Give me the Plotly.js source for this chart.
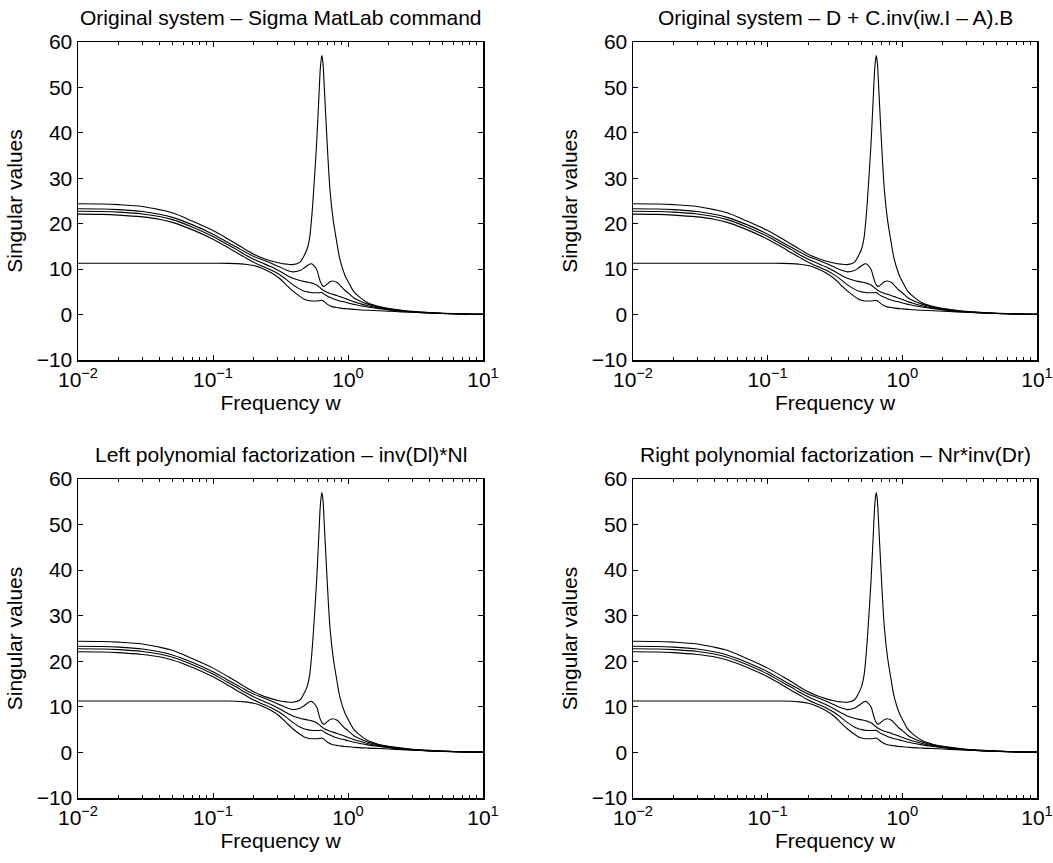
<!DOCTYPE html>
<html>
<head>
<meta charset="utf-8">
<script src="https://cdn.plot.ly/plotly-3.0.1.min.js"></script>
<style>html,body{margin:0;padding:0;background:#fff;}#chart{width:1053px;height:863px;}</style>
</head>
<body>
<div id="chart"></div>
<script>
// Frequency grid (rad/s)
const freq = [0.01, 0.015, 0.02, 0.03, 0.04, 0.05, 0.07, 0.1, 0.13, 0.15, 0.17, 0.2, 0.23, 0.27, 0.31, 0.35, 0.39, 0.44, 0.47, 0.5, 0.52, 0.535, 0.55, 0.585, 0.61, 0.625, 0.64, 0.652, 0.665, 0.7, 0.735, 0.775, 0.825, 0.87, 0.95, 1.0, 1.1, 1.2, 1.4, 1.7, 2, 2.5, 3, 4, 5, 7, 10];

// Singular values (sorted, largest first)
const sv1 = [24.4, 24.35, 24.2, 23.8, 23.1, 22.4, 20.6, 18.5, 16.6, 15.5, 14.5, 13.3, 12.5, 11.8, 11.35, 11.1, 11.0, 11.5, 12.8, 14.6, 17.0, 20.5, 25.0, 37.5, 48.5, 54.5, 57.0, 55.5, 51.0, 38.0, 27.5, 21.0, 16.0, 12.2, 8.6, 7.3, 5.1, 4.0, 2.6, 1.75, 1.35, 0.95, 0.7, 0.45, 0.3, 0.15, 0.08];
const sv2 = [23.3, 23.25, 23.1, 22.7, 22.1, 21.4, 19.8, 17.7, 15.8, 14.8, 13.9, 12.8, 12.1, 11.3, 10.5, 9.8, 9.4, 9.7, 10.2, 10.8, 11.1, 11.2, 11.0, 10.0, 8.2, 7.2, 6.6, 6.3, 6.2, 6.7, 7.2, 7.4, 7.1, 6.5, 5.3, 4.8, 3.7, 3.1, 2.3, 1.6, 1.25, 0.88, 0.63, 0.4, 0.27, 0.14, 0.07];
const sv3 = [22.75, 22.7, 22.55, 22.15, 21.6, 20.9, 19.3, 17.2, 15.3, 14.3, 13.3, 12.2, 11.4, 10.5, 9.6, 8.7, 8.0, 7.5, 7.3, 7.15, 7.05, 6.95, 6.85, 6.5, 6.1, 5.85, 5.6, 5.4, 5.25, 4.9, 4.65, 4.45, 4.2, 3.95, 3.55, 3.3, 2.85, 2.5, 1.95, 1.45, 1.15, 0.8, 0.58, 0.37, 0.25, 0.13, 0.07];
const sv4 = [22.1, 22.05, 21.9, 21.5, 21.0, 20.3, 18.7, 16.6, 14.7, 13.6, 12.7, 11.5, 10.7, 9.8, 8.8, 7.7, 6.6, 5.6, 5.2, 5.0, 4.9, 4.85, 4.8, 4.8, 4.8, 4.85, 4.85, 4.7, 4.5, 4.1, 3.8, 3.5, 3.2, 3.0, 2.75, 2.55, 2.25, 2.0, 1.65, 1.3, 1.05, 0.72, 0.55, 0.35, 0.24, 0.12, 0.06];
const sv5 = [11.3, 11.3, 11.3, 11.3, 11.3, 11.3, 11.3, 11.29, 11.27, 11.22, 11.1, 10.8, 10.2, 9.2, 8.0, 6.5, 5.2, 4.0, 3.45, 3.15, 3.05, 3.0, 3.0, 3.0, 3.05, 3.1, 3.15, 3.05, 2.85, 2.3, 1.95, 1.7, 1.55, 1.45, 1.3, 1.25, 1.15, 1.05, 0.95, 0.85, 0.75, 0.6, 0.5, 0.35, 0.25, 0.12, 0.06];

const series = [sv1, sv2, sv3, sv4, sv5];

const panelTitles = [
  "Original system – Sigma MatLab command",
  "Original system – D + C.inv(iw.I – A).B",
  "Left polynomial factorization – inv(Dl)*Nl",
  "Right polynomial factorization – Nr*inv(Dr)"
];
const xTickVals = [0.01, 0.1, 1, 10];
const xTickText = ["10<sup>−2</sup>", "10<sup>−1</sup>", "10<sup>0</sup>", "10<sup>1</sup>"];
const xLabel = "Frequency w";
const yLabel = "Singular values";

const FONT = "Liberation Sans, Arial, Helvetica, sans-serif";
const FS = 21;

const xDomains = [[78/1053, 483/1053], [633/1053, 1037/1053]];
const yDomains = [[(863-360)/863, (863-42)/863], [(863-798)/863, (863-479)/863]];

const traces = [];
const layout = {
  width: 1053, height: 863,
  margin: {l: 0, r: 0, t: 0, b: 0},
  paper_bgcolor: "#fff", plot_bgcolor: "#fff",
  showlegend: false,
  font: {family: FONT, size: FS, color: "#000"},
  annotations: []
};

for (let p = 0; p < 4; p++) {
  const col = p % 2, row = Math.floor(p / 2);
  const xa = p === 0 ? "x" : "x" + (p + 1);
  const ya = p === 0 ? "y" : "y" + (p + 1);
  series.forEach(s => traces.push({
    x: freq, y: s, xaxis: xa, yaxis: ya, type: "scatter", mode: "lines",
    line: {color: "#000", width: 1.1, shape: "spline", smoothing: 0.9},
    hoverinfo: "skip"
  }));
  const xk = p === 0 ? "xaxis" : "xaxis" + (p + 1);
  const yk = p === 0 ? "yaxis" : "yaxis" + (p + 1);
  layout[xk] = {
    domain: xDomains[col], anchor: ya, type: "log", range: [-2, 1],
    tickvals: xTickVals, ticktext: xTickText,
    ticks: "inside", ticklen: 5, tickwidth: 1, tickcolor: "#000",
    showline: true, linecolor: "#000", linewidth: 1.5, mirror: "ticks",
    showgrid: false, zeroline: false,
    minor: {ticks: "inside", ticklen: 3, tickwidth: 1, tickcolor: "#000", dtick: "D1", showgrid: false},
    tickfont: {family: FONT, size: FS, color: "#000"},
    title: {text: xLabel, font: {family: FONT, size: FS, color: "#000"}, standoff: 2},
    automargin: false, fixedrange: true
  };
  layout[yk] = {
    domain: yDomains[row], anchor: xa, range: [-10, 60], dtick: 10, tick0: 0,
    ticks: "inside", ticklen: 5, tickwidth: 1, tickcolor: "#000",
    showline: true, linecolor: "#000", linewidth: 1.5, mirror: "ticks",
    showgrid: false, zeroline: false,
    tickfont: {family: FONT, size: FS, color: "#000"},
    title: {text: yLabel, font: {family: FONT, size: FS, color: "#000"}, standoff: 8},
    automargin: false, fixedrange: true
  };
  layout.annotations.push({
    text: panelTitles[p], xref: "paper", yref: "paper",
    x: (xDomains[col][0] + xDomains[col][1]) / 2,
    y: yDomains[row][1], yshift: 11,
    xanchor: "center", yanchor: "bottom", showarrow: false,
    font: {family: FONT, size: FS, color: "#000"}
  });
}

Plotly.newPlot("chart", traces, layout, {staticPlot: true, displayModeBar: false});
</script>
</body>
</html>
